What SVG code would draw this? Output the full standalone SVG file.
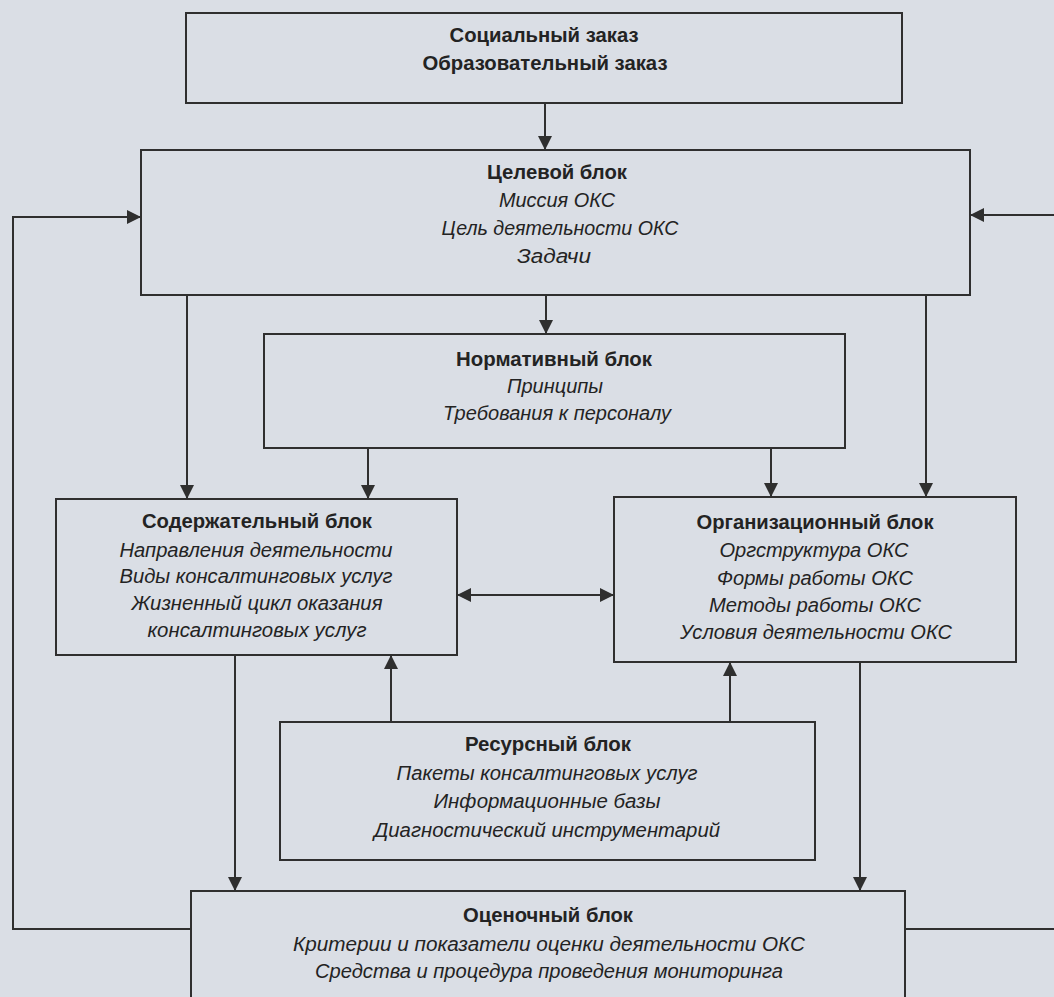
<svg xmlns="http://www.w3.org/2000/svg" width="1054" height="997" viewBox="0 0 1054 997">
<style>
.bg{fill:#dadee5}
.box{fill:none;stroke:#2f2f2f;stroke-width:2}
.c{fill:none;stroke:#2f2f2f;stroke-width:2}
text{font-family:"Liberation Sans",Arial,sans-serif;fill:#232323;text-anchor:middle}
.h{font-weight:bold;font-size:21px}
.i{font-style:italic;font-size:20px}
</style>
<defs>
<marker id="ah" markerUnits="userSpaceOnUse" markerWidth="14" markerHeight="14" viewBox="0 0 14 14" refX="14" refY="7" orient="auto-start-reverse">
<path d="M0,0 L14,7 L0,14 z" fill="#2f2f2f"/>
</marker>
</defs>
<rect class="bg" x="0" y="0" width="1054" height="997"/>

<g id="connectors">
<path class="c" d="M545,103 V150" marker-end="url(#ah)"/>
<path class="c" d="M546,295 V334" marker-end="url(#ah)"/>
<path class="c" d="M187,295 V499" marker-end="url(#ah)"/>
<path class="c" d="M926,295 V497" marker-end="url(#ah)"/>
<path class="c" d="M368,448 V499" marker-end="url(#ah)"/>
<path class="c" d="M771,448 V497" marker-end="url(#ah)"/>
<path class="c" d="M614,595 H457" marker-start="url(#ah)" marker-end="url(#ah)"/>
<path class="c" d="M235,655 V891" marker-end="url(#ah)"/>
<path class="c" d="M391,722 V655" marker-end="url(#ah)"/>
<path class="c" d="M730,722 V662" marker-end="url(#ah)"/>
<path class="c" d="M860,662 V891" marker-end="url(#ah)"/>
<path class="c" d="M191,929 H13 V217 H141" marker-end="url(#ah)"/>
<path class="c" d="M905,929 H1062 V215 H970" marker-end="url(#ah)"/>
</g>

<g id="social">
<rect class="box" x="186" y="13" width="716" height="90"/>
<text class="h" x="544" y="42" textLength="189" lengthAdjust="spacingAndGlyphs">Социальный заказ</text>
<text class="h" x="545" y="70" textLength="245" lengthAdjust="spacingAndGlyphs">Образовательный заказ</text>
</g>

<g id="target">
<rect class="box" x="141" y="150" width="829" height="145"/>
<text class="h" x="557" y="179" textLength="140" lengthAdjust="spacingAndGlyphs">Целевой блок</text>
<text class="i" x="557" y="207" textLength="116" lengthAdjust="spacingAndGlyphs">Миссия ОКС</text>
<text class="i" x="560" y="235" textLength="237" lengthAdjust="spacingAndGlyphs">Цель деятельности ОКС</text>
<text class="i" x="554" y="263" textLength="74" lengthAdjust="spacingAndGlyphs">Задачи</text>
</g>

<g id="normative">
<rect class="box" x="264" y="334" width="581" height="114"/>
<text class="h" x="554" y="366" textLength="196" lengthAdjust="spacingAndGlyphs">Нормативный блок</text>
<text class="i" x="555" y="393" textLength="96" lengthAdjust="spacingAndGlyphs">Принципы</text>
<text class="i" x="557" y="420" textLength="228" lengthAdjust="spacingAndGlyphs">Требования к персоналу</text>
</g>

<g id="content">
<rect class="box" x="56" y="499" width="401" height="156"/>
<text class="h" x="257" y="528" textLength="230" lengthAdjust="spacingAndGlyphs">Содержательный блок</text>
<text class="i" x="256" y="557" textLength="273" lengthAdjust="spacingAndGlyphs">Направления деятельности</text>
<text class="i" x="256" y="583" textLength="273" lengthAdjust="spacingAndGlyphs">Виды консалтинговых услуг</text>
<text class="i" x="257" y="610" textLength="251" lengthAdjust="spacingAndGlyphs">Жизненный цикл оказания</text>
<text class="i" x="257" y="637" textLength="219" lengthAdjust="spacingAndGlyphs">консалтинговых услуг</text>
</g>

<g id="organizational">
<rect class="box" x="614" y="497" width="402" height="165"/>
<text class="h" x="815" y="529" textLength="237" lengthAdjust="spacingAndGlyphs">Организационный блок</text>
<text class="i" x="814" y="557" textLength="189" lengthAdjust="spacingAndGlyphs">Оргструктура ОКС</text>
<text class="i" x="815" y="585" textLength="196" lengthAdjust="spacingAndGlyphs">Формы работы ОКС</text>
<text class="i" x="815" y="612" textLength="212" lengthAdjust="spacingAndGlyphs">Методы работы ОКС</text>
<text class="i" x="816" y="639" textLength="272" lengthAdjust="spacingAndGlyphs">Условия деятельности ОКС</text>
</g>

<g id="resource">
<rect class="box" x="280" y="722" width="535" height="138"/>
<text class="h" x="548" y="751" textLength="166" lengthAdjust="spacingAndGlyphs">Ресурсный блок</text>
<text class="i" x="547" y="780" textLength="301" lengthAdjust="spacingAndGlyphs">Пакеты консалтинговых услуг</text>
<text class="i" x="547" y="808" textLength="227" lengthAdjust="spacingAndGlyphs">Информационные базы</text>
<text class="i" x="547" y="837" textLength="346" lengthAdjust="spacingAndGlyphs">Диагностический инструментарий</text>
</g>

<g id="evaluation">
<rect class="box" x="191" y="891" width="714" height="130"/>
<text class="h" x="548" y="922" textLength="170" lengthAdjust="spacingAndGlyphs">Оценочный блок</text>
<text class="i" x="549" y="951" textLength="512" lengthAdjust="spacingAndGlyphs">Критерии и показатели оценки деятельности ОКС</text>
<text class="i" x="549" y="978" textLength="468" lengthAdjust="spacingAndGlyphs">Средства и процедура проведения мониторинга</text>
</g>
</svg>
